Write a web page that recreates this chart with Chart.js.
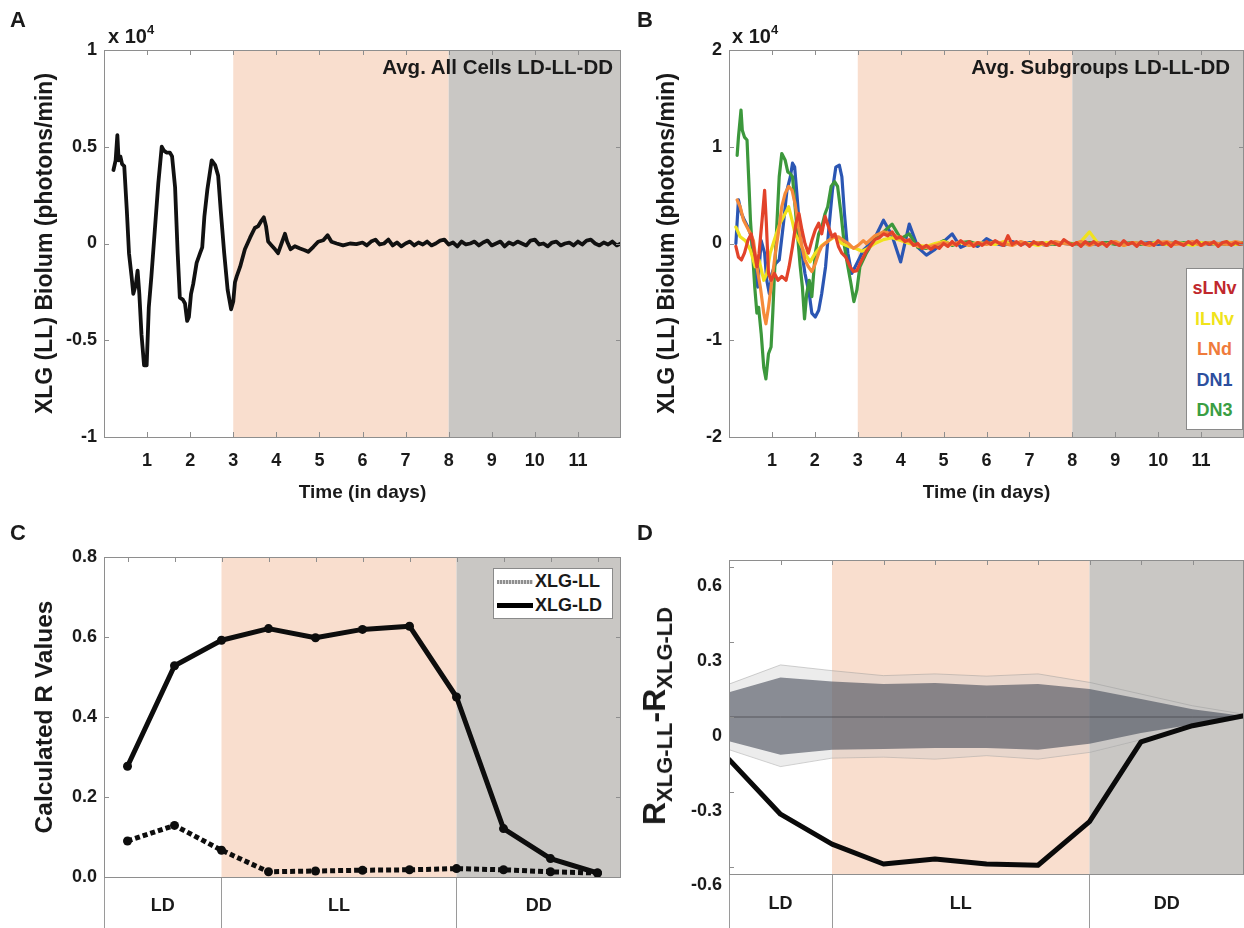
<!DOCTYPE html>
<html><head><meta charset="utf-8">
<script src="https://cdn.jsdelivr.net/npm/chart.js@4.4.1/dist/chart.umd.min.js"></script>
<style>
html,body{margin:0;padding:0;background:#fff;}
body{position:relative;width:1244px;height:928px;overflow:hidden;font-family:'Liberation Sans',Arial,Helvetica,sans-serif;font-weight:bold;color:#1a1a1a;}
canvas{position:absolute;}
.t{position:absolute;white-space:nowrap;line-height:1;}
.letter{font-size:22px;}
.mult{font-size:20px;}
.mult sup{font-size:13px;vertical-align:9px;}
.title{font-size:20.5px;}
.legB{position:absolute;left:1186px;top:268px;width:57px;height:162px;background:#fff;border:1px solid #8a8a8a;box-sizing:border-box;padding-top:4px;}
.legB div{height:30.6px;line-height:30.6px;text-align:center;font-size:18px;}
.legC{position:absolute;left:493px;top:568px;width:120px;height:51px;background:#fff;border:1px solid #8a8a8a;box-sizing:border-box;padding:1px 0 0 3px;}
.legC .row{display:flex;align-items:center;height:23.5px;font-size:18px;}
.legC .s1{width:36px;height:4px;background:repeating-linear-gradient(90deg,#8f8f8f 0 2px,#d8d8d8 2px 3px);margin-right:2px;}
.legC .s2{width:36px;height:5px;background:#000;margin-right:2px;}
#ytD{font-size:32px;transform:translate(-50%,-50%) rotate(-90deg);}
#ytD sub{font-size:22px;vertical-align:-7px;}
</style></head>
<body>
<canvas id="cA" width="640" height="510" style="left:0;top:0"></canvas>
<canvas id="cB" width="624" height="510" style="left:620px;top:0"></canvas>
<canvas id="cC" width="640" height="418" style="left:0;top:510px"></canvas>
<canvas id="cD" width="624" height="418" style="left:620px;top:510px"></canvas>

<div class="t letter" style="left:10px;top:9px">A</div>
<div class="t letter" style="left:637px;top:9px">B</div>
<div class="t letter" style="left:10px;top:522px">C</div>
<div class="t letter" style="left:637px;top:522px">D</div>
<div class="t mult" style="left:108px;top:23px">x 10<sup>4</sup></div>
<div class="t mult" style="left:732px;top:23px">x 10<sup>4</sup></div>
<div class="t title" style="right:631px;top:57px">Avg. All Cells LD-LL-DD</div>
<div class="t title" style="right:14px;top:57px">Avg. Subgroups LD-LL-DD</div>

<div class="legB">
  <div style="color:#c0282d">sLNv</div>
  <div style="color:#f0e31a">lLNv</div>
  <div style="color:#ef7b3c">LNd</div>
  <div style="color:#2d4f9e">DN1</div>
  <div style="color:#3a9e43">DN3</div>
</div>
<div class="legC">
  <div class="row"><div class="s1"></div>XLG-LL</div>
  <div class="row"><div class="s2"></div>XLG-LD</div>
</div>
<div class="t" id="ytD" style="left:657px;top:716px">R<sub>XLG-LL</sub>-R<sub>XLG-LD</sub></div>

<script>
// ---------------- DATA ----------------
// Panel A: average of all cells (x 10^4 photons/min) vs time (days)
const timeA = [0.22,0.27,0.31,0.34,0.38,0.42,0.47,0.53,0.58,0.64,0.68,0.74,0.78,0.82,0.87,0.93,0.99,1.04,1.10,1.18,
  1.26,1.34,1.39,1.45,1.53,1.58,1.65,1.71,1.76,1.83,1.88,1.93,1.97,2.02,2.07,2.15,2.23,2.28,2.33,2.40,
  2.50,2.58,2.65,2.71,2.79,2.87,2.95,3.00,3.04,3.08,3.16,3.27,3.39,3.50,3.58,3.66,3.71,3.76,3.81,3.89,
  3.97,4.04,4.12,4.20,4.25,4.33,4.43,4.55,4.66,4.74,4.86,4.97,5.09,5.19,5.28,5.40,5.55,5.71,5.86,
  6.0,6.1,6.2,6.3,6.4,6.5,6.6,6.7,6.8,6.9,
  7.0,7.1,7.2,7.3,7.4,7.5,7.6,7.7,7.8,7.9,
  8.0,8.1,8.2,8.3,8.4,8.5,8.6,8.7,8.8,8.9,
  9.0,9.1,9.2,9.3,9.4,9.5,9.6,9.7,9.8,9.9,
  10.0,10.1,10.2,10.3,10.4,10.5,10.6,10.7,10.8,10.9,
  11.0,11.1,11.2,11.3,11.4,11.5,11.6,11.7,11.8,11.9,12.0];
const allCells = [0.38,0.43,0.56,0.43,0.45,0.41,0.40,0.17,-0.05,-0.17,-0.26,-0.21,-0.14,-0.26,-0.47,-0.63,-0.63,-0.33,-0.17,0.07,
  0.31,0.50,0.48,0.47,0.47,0.45,0.29,-0.05,-0.28,-0.29,-0.31,-0.40,-0.38,-0.26,-0.21,-0.10,-0.05,-0.02,0.14,0.28,
  0.43,0.405,0.35,0.17,-0.05,-0.24,-0.34,-0.30,-0.20,-0.17,-0.12,-0.03,0.03,0.08,0.09,0.12,0.135,0.09,0.01,-0.01,
  -0.03,-0.05,0.0,0.05,0.01,-0.03,-0.014,-0.026,-0.035,-0.043,-0.017,0.009,0.017,0.043,0.009,0.0,-0.01,0.0,-0.003,
  0.005,-0.01,0.01,0.02,-0.005,0.0,0.02,-0.01,0.005,-0.015,
  0.0,0.01,-0.01,0.005,-0.005,0.01,-0.01,0.0,0.015,0.02,
  -0.005,0.005,-0.015,0.01,-0.005,0.0,0.01,-0.01,0.005,0.015,
  -0.01,0.0,0.01,-0.015,0.005,-0.005,0.01,0.0,-0.01,0.015,
  0.02,-0.005,0.0,-0.015,0.005,0.01,-0.01,0.0,0.005,-0.01,
  0.01,-0.005,0.015,0.02,0.0,-0.01,0.005,-0.005,0.01,-0.01,0.0];

// Panel B: subgroups. Early (LD) readings per series + tail readings on shared time grids
const tailFine = [3.2,3.3,3.4,3.5,3.6,3.7,3.8,3.9,
  4.0,4.1,4.2,4.3,4.4,4.5,4.6,4.7,4.8,4.9,
  5.0,5.1,5.2,5.3,5.4,5.5,5.6,5.7,5.8,5.9,
  6.0,6.1,6.2,6.3,6.4,6.5,6.6,6.7,6.8,6.9,
  7.0,7.1,7.2,7.3,7.4,7.5,7.6,7.7,7.8,7.9,
  8.0,8.1,8.2,8.3,8.4,8.5,8.6,8.7,8.8,8.9,
  9.0,9.1,9.2,9.3,9.4,9.5,9.6,9.7,9.8,9.9,
  10.0,10.1,10.2,10.3,10.4,10.5,10.6,10.7,10.8,10.9,
  11.0,11.1,11.2,11.3,11.4,11.5,11.6,11.7,11.8,11.9,12.0];
const tailCoarse = [3.2,3.4,3.6,3.8,4.0,4.2,4.4,4.6,4.8,5.0,5.2,5.4,5.6,5.8,6.0,6.2,6.4,6.6,6.8,7.0,7.2,7.4,7.6,
  7.8,8.0,8.2,8.4,8.6,8.8,9.0,9.2,9.4,9.6,9.8,10.0,10.2,10.4,10.6,10.8,11.0,11.2,11.4,11.6,11.8,12.0];

const sLNvTime = [0.16,0.22,0.29,0.36,0.44,0.52,0.57,0.65,0.70,0.77,0.83,0.87,0.92,0.98,1.06,1.14,1.23,1.33,1.40,1.48,
  1.56,1.63,1.70,1.77,1.85,1.93,2.01,2.09,2.16,2.24,2.32,2.40,2.47,2.55,2.63,2.72,2.82,2.90,2.98,3.05,3.13];
const sLNvEarly = [-0.03,-0.14,-0.17,-0.10,0.03,0.10,-0.03,-0.24,-0.10,0.24,0.55,0.21,-0.31,-0.38,-0.31,-0.38,-0.34,-0.38,-0.24,-0.03,
  0.21,0.31,0.14,0.0,-0.10,0.03,0.14,0.21,0.10,0.28,0.17,0.07,0.10,-0.03,-0.10,-0.14,-0.24,-0.29,-0.28,-0.21,-0.14];
const sLNvTail = [-0.08,-0.02,0.04,0.06,0.10,0.08,0.12,0.05,
  0.07,0.02,0.04,-0.02,0.0,-0.05,-0.02,-0.06,-0.03,-0.05,
  0.0,-0.03,0.02,-0.02,0.03,-0.01,0.02,-0.03,0.01,-0.02,
  0.02,-0.01,0.03,0.0,-0.02,0.08,-0.01,0.02,-0.02,0.01,
  -0.03,0.02,-0.01,0.01,-0.02,0.02,0.0,-0.02,0.04,0.01,
  -0.02,0.01,-0.03,0.02,-0.01,0.02,-0.02,0.01,-0.03,0.02,
  0.0,-0.02,0.03,-0.01,0.01,-0.03,0.02,-0.01,0.01,-0.02,
  0.03,-0.01,0.01,-0.03,0.02,0.0,-0.02,0.02,-0.01,0.03,
  -0.02,0.01,-0.01,0.02,-0.03,0.01,0.02,-0.02,0.01,-0.01,0.0];

const lLNvTime = [0.16,0.26,0.38,0.50,0.61,0.70,0.81,0.88,0.96,1.08,1.19,1.31,1.39,1.47,1.54,1.66,1.77,1.89,2.01,2.16,
  2.32,2.47,2.63,2.78,2.94,3.10];
const lLNvEarly = [0.17,0.07,0.03,-0.07,-0.24,-0.17,-0.38,-0.31,-0.10,0.07,0.21,0.31,0.38,0.24,0.10,0.0,-0.10,-0.19,-0.10,-0.02,
  0.03,0.07,0.0,-0.03,-0.05,-0.08];
const lLNvTail = [-0.06,0.0,0.04,0.06,0.03,0.0,-0.02,-0.03,0.0,0.02,-0.01,0.01,-0.02,0.01,0.0,-0.01,0.02,-0.01,0.01,0.0,
  -0.02,0.01,0.0,0.01,-0.01,0.02,0.12,0.0,-0.01,0.02,-0.02,0.01,0.0,-0.01,0.02,-0.01,0.01,0.0,-0.02,0.01,
  0.0,-0.01,0.02,-0.01,0.0];

const LNdTime = [0.19,0.26,0.34,0.42,0.50,0.57,0.65,0.73,0.81,0.86,0.92,1.00,1.08,1.16,1.23,1.31,1.39,1.47,1.54,1.62,
  1.70,1.77,1.85,1.93,2.01,2.09,2.16,2.24,2.32,2.43,2.55,2.67,2.78,2.90,3.01,3.13];
const LNdEarly = [0.45,0.38,0.24,0.17,0.10,0.03,-0.24,-0.45,-0.72,-0.83,-0.66,-0.38,-0.10,0.14,0.38,0.52,0.59,0.55,0.41,0.17,
  -0.03,-0.17,-0.24,-0.29,-0.21,-0.10,-0.03,0.0,0.03,0.07,0.07,0.03,0.0,-0.05,-0.02,0.03];
const LNdTail = [0.0,0.08,0.12,0.10,0.05,0.02,-0.03,-0.04,-0.02,0.01,-0.01,0.02,-0.02,0.01,-0.01,0.02,0.0,-0.02,0.02,-0.01,
  0.01,-0.02,0.02,0.0,-0.01,0.02,-0.02,0.01,-0.01,0.02,-0.02,0.01,0.0,-0.02,0.01,0.02,-0.01,0.0,0.02,-0.02,
  0.01,0.0,-0.01,0.02,0.0];

const DN1Time = [0.16,0.22,0.29,0.36,0.44,0.52,0.60,0.67,0.75,0.83,0.88,0.94,1.00,1.08,1.17,1.27,1.35,1.43,1.48,1.53,
  1.58,1.63,1.70,1.77,1.87,1.93,2.01,2.09,2.16,2.25,2.33,2.41,2.49,2.57,2.63,2.69,2.77,2.86,2.94,3.02,3.13];
const DN1Early = [0.0,0.45,0.31,0.24,0.17,0.07,-0.24,-0.45,0.03,-0.10,-0.38,-0.52,-0.31,-0.21,-0.17,0.21,0.55,0.69,0.83,0.79,
  0.52,0.24,-0.10,-0.31,-0.52,-0.72,-0.76,-0.69,-0.52,-0.24,0.17,0.55,0.79,0.81,0.69,0.31,-0.10,-0.31,-0.24,-0.17,-0.07];
const DN1Tail = [-0.04,0.06,0.24,0.08,-0.19,0.20,-0.04,-0.12,-0.06,0.02,0.10,-0.04,0.0,-0.03,0.05,0.0,-0.02,0.02,-0.01,0.01,
  0.0,-0.02,0.01,0.0,-0.01,0.01,0.0,-0.01,0.01,0.0,-0.01,0.01,0.0,0.01,-0.01,0.0,0.01,-0.01,0.0,0.01,
  -0.01,0.0,0.01,-0.01,0.0];

const DN3Time = [0.19,0.22,0.28,0.31,0.36,0.42,0.46,0.50,0.55,0.60,0.65,0.69,0.75,0.81,0.86,0.92,0.98,1.02,1.06,1.12,
  1.17,1.23,1.31,1.37,1.43,1.48,1.54,1.60,1.66,1.71,1.76,1.81,1.87,1.93,2.01,2.09,2.16,2.24,2.30,2.38,
  2.46,2.53,2.61,2.69,2.77,2.84,2.91,2.98,3.05];
const DN3Early = [0.91,1.10,1.38,1.17,1.10,1.07,0.66,0.24,-0.10,-0.45,-0.72,-0.66,-0.93,-1.28,-1.40,-1.14,-1.07,-0.72,-0.31,0.24,
  0.69,0.93,0.86,0.74,0.72,0.69,0.38,0.07,-0.24,-0.45,-0.78,-0.52,-0.38,-0.55,-0.10,0.10,0.17,0.31,0.38,0.59,
  0.64,0.59,0.31,-0.03,-0.24,-0.41,-0.60,-0.48,-0.24];
const DN3Tail = [-0.10,0.05,0.12,0.20,0.05,0.10,-0.04,-0.05,-0.02,0.03,-0.02,0.01,0.02,-0.01,0.0,0.02,-0.01,0.0,0.01,-0.01,
  0.01,0.0,-0.01,0.01,0.0,-0.01,0.01,0.0,0.01,-0.01,0.0,0.01,-0.01,0.0,0.01,-0.01,0.0,0.01,0.0,-0.01,
  0.01,0.0,-0.01,0.0,0.01];

// Panel C: calculated R values per time window
const windowsC = [1,2,3,4,5,6,7,8,9,10,11];
const rXLG_LD = [0.277,0.528,0.592,0.621,0.598,0.619,0.627,0.450,0.121,0.046,0.010];
const rXLG_LL = [0.090,0.129,0.067,0.013,0.015,0.017,0.018,0.021,0.018,0.013,0.010];

// Panel D: R(XLG-LL) - R(XLG-LD) with null distribution bands
const windowsD = [1,2,3,4,5,6,7,8,9,10,11];
const rDiff = [-0.17,-0.39,-0.51,-0.59,-0.57,-0.59,-0.595,-0.42,-0.10,-0.035,0.005];
const nullMean = [0,0,0,0,0,0,0,0,0,0,0];
const innerUpper = [0.099,0.159,0.142,0.132,0.136,0.126,0.132,0.112,0.072,0.031,0.004];
const innerLower = [-0.097,-0.151,-0.131,-0.128,-0.124,-0.124,-0.131,-0.107,-0.064,-0.030,-0.004];
const outerUpper = [0.132,0.209,0.186,0.166,0.173,0.164,0.173,0.139,0.092,0.045,0.011];
const outerLower = [-0.131,-0.199,-0.165,-0.161,-0.169,-0.155,-0.169,-0.142,-0.091,-0.043,-0.004];

// Axis ticks / labels
const dayTicks = [1,2,3,4,5,6,7,8,9,10,11];
const yTicksA = [-1,-0.5,0,0.5,1];
const yLabelsA = ['-1','-0.5','0','0.5','1'];
const yTicksB = [-2,-1,0,1,2];
const yLabelsB = ['-2','-1','0','1','2'];
const yTicksC = [0,0.2,0.4,0.6,0.8];
const yLabelsC = ['0.0','0.2','0.4','0.6','0.8'];
const yTicksD = [-0.6,-0.3,0,0.3,0.6];
const yLabelsD = ['-0.6','-0.3','0','0.3','0.6'];
const phaseNames = ['LD','LL','DD'];
const phaseCentersC = [1.75,5.5,9.75];
const phaseEdgesC = [0.5,3,8];
const phaseCentersD = [2,5.5,9.5];
const phaseEdgesD = [1,3,8];
const topTicksC = [1,2,3,4,5,6,7,8,9,10,11];
const topTicksD = [2,3,4,5,6,7,8,9,10];

// ---------------- STYLE ----------------
const LL_COLOR = 'rgb(249,222,206)';
const DD_COLOR = 'rgb(201,199,196)';
const FRAME = '#8e8e8e';
const TXT = '#1a1a1a';
Chart.defaults.font.family = "'Liberation Sans', Arial, Helvetica, sans-serif";
Chart.defaults.font.weight = 'bold';
Chart.defaults.color = TXT;

const shadePlugin = {
  id: 'shade',
  beforeDatasetsDraw(chart, args, opts) {
    const {ctx, chartArea: a, scales: {x}} = chart;
    ctx.save();
    (opts.regions || []).forEach(r => {
      const x0 = Math.max(a.left, x.getPixelForValue(r.from));
      const x1 = Math.min(a.right, x.getPixelForValue(r.to));
      ctx.fillStyle = r.color;
      ctx.fillRect(x0, a.top, x1 - x0, a.bottom - a.top);
    });
    ctx.restore();
  }
};
const framePlugin = {
  id: 'frame',
  afterDatasetsDraw(chart, args, opts) {
    const {ctx, chartArea: a, scales: {x, y}} = chart;
    const L = opts.len || 5;
    ctx.save();
    ctx.strokeStyle = FRAME; ctx.lineWidth = 1;
    ctx.beginPath();
    (opts.xTicks || []).forEach(v => {
      const px = Math.round(x.getPixelForValue(v)) + 0.5;
      if (opts.top) { ctx.moveTo(px, a.top); ctx.lineTo(px, a.top + L); }
      if (opts.bottom) { ctx.moveTo(px, a.bottom); ctx.lineTo(px, a.bottom - L); }
    });
    (opts.yTicks || []).forEach(v => {
      const py = Math.round(y.getPixelForValue(v)) + 0.5;
      ctx.moveTo(a.left, py); ctx.lineTo(a.left + L, py);
      if (opts.right) { ctx.moveTo(a.right, py); ctx.lineTo(a.right - L, py); }
    });
    ctx.stroke();
    ctx.strokeRect(Math.round(a.left) + 0.5, Math.round(a.top) + 0.5,
      Math.round(a.right - a.left) - 1, Math.round(a.bottom - a.top));
    ctx.restore();
  }
};

function pts(xs, ys) { return xs.map((x, i) => ({x, y: ys[i]})); }

function yAxis(o) {
  return {
    type: 'linear', min: o.min, max: o.max,
    afterBuildTicks: s => { s.ticks = o.ticks.map(v => ({value: v})); },
    afterFit: s => { s.width = o.width; },
    grid: {display: false, drawTicks: false}, border: {display: false},
    ticks: {padding: o.pad, labelOffset: o.labelOffset || 0, autoSkip: false, color: TXT,
      font: {size: 18, weight: 'bold'}, callback: (v, i) => o.labels[i]},
    title: o.title ? {display: true, text: o.title, color: TXT, font: {size: o.titleSize || 23, weight: 'bold'},
      padding: {top: o.titlePad, bottom: 0}} : {display: false}
  };
}
function timeAxis() {
  return {
    type: 'linear', min: 0, max: 12,
    afterBuildTicks: s => { s.ticks = dayTicks.map(v => ({value: v})); },
    afterFit: s => { s.height = 73; },
    grid: {display: false, drawTicks: false}, border: {display: false},
    ticks: {padding: 13, autoSkip: false, maxRotation: 0, color: TXT, font: {size: 18, weight: 'bold'},
      callback: (v, i) => String(dayTicks[i])},
    title: {display: true, text: 'Time (in days)', color: TXT, font: {size: 19, weight: 'bold'},
      padding: {top: 0, bottom: 6}}
  };
}
function phaseAxis(min, max, centers, edges, h, pad) {
  return {
    type: 'linear', min, max,
    afterBuildTicks: s => { s.ticks = edges.concat(centers).sort((a, b) => a - b).map(v => ({value: v})); },
    afterFit: s => { s.height = h; },
    grid: {display: true, drawOnChartArea: false, drawTicks: true, tickLength: h, tickWidth: 1,
      tickColor: c => (c.tick && edges.includes(c.tick.value)) ? '#9a9a9a' : 'rgba(0,0,0,0)'},
    border: {display: false},
    ticks: {padding: pad, autoSkip: false, maxRotation: 0, color: TXT, font: {size: 18, weight: 'bold'},
      callback: v => { const k = centers.indexOf(v); return k >= 0 ? phaseNames[k] : ''; }}
  };
}
function common(padTop, padRight) {
  return {
    responsive: false, maintainAspectRatio: false, animation: false, devicePixelRatio: 1,
    layout: {padding: {left: 0, right: padRight, top: padTop, bottom: 0}},
    elements: {point: {radius: 0}, line: {tension: 0, borderJoinStyle: 'round', borderCapStyle: 'round'}},
    events: []
  };
}

// ---------- Panel A ----------
new Chart(document.getElementById('cA'), {
  type: 'line',
  data: {datasets: [{label: 'All cells', data: pts(timeA, allCells), borderColor: '#111', borderWidth: 3.8, fill: false}]},
  options: Object.assign(common(50, 19), {
    scales: {x: timeAxis(), y: yAxis({min: -1, max: 1, ticks: yTicksA, labels: yLabelsA, width: 104, pad: 7,
      title: 'XLG (LL) Biolum (photons/min)', titlePad: 32})},
    plugins: {legend: {display: false}, tooltip: {enabled: false},
      shade: {regions: [{from: 3, to: 8, color: LL_COLOR}, {from: 8, to: 12, color: DD_COLOR}]},
      frame: {xTicks: dayTicks, yTicks: [-0.5, 0, 0.5], top: true, bottom: true, right: true}}
  }),
  plugins: [shadePlugin, framePlugin]
});

// ---------- Panel B ----------
const subgroups = [
  {label: 'sLNv', t: sLNvTime.concat(tailFine), v: sLNvEarly.concat(sLNvTail), color: '#e2432a', order: 0},
  {label: 'lLNv', t: lLNvTime.concat(tailCoarse), v: lLNvEarly.concat(lLNvTail), color: '#f0e21e', order: 2},
  {label: 'LNd', t: LNdTime.concat(tailCoarse), v: LNdEarly.concat(LNdTail), color: '#f58a3a', order: 1},
  {label: 'DN1', t: DN1Time.concat(tailCoarse), v: DN1Early.concat(DN1Tail), color: '#2b56b3', order: 4},
  {label: 'DN3', t: DN3Time.concat(tailCoarse), v: DN3Early.concat(DN3Tail), color: '#3c983c', order: 3}
];
new Chart(document.getElementById('cB'), {
  type: 'line',
  data: {datasets: subgroups.map(g => ({label: g.label, data: pts(g.t, g.v), borderColor: g.color,
    borderWidth: 3.2, fill: false, order: g.order}))},
  options: Object.assign(common(50, 0), {
    scales: {x: timeAxis(), y: yAxis({min: -2, max: 2, ticks: yTicksB, labels: yLabelsB, width: 109, pad: 7,
      title: 'XLG (LL) Biolum (photons/min)', titlePad: 34})},
    plugins: {legend: {display: false}, tooltip: {enabled: false},
      shade: {regions: [{from: 3, to: 8, color: LL_COLOR}, {from: 8, to: 12, color: DD_COLOR}]},
      frame: {xTicks: dayTicks, yTicks: [-1, 0, 1], top: true, bottom: true, right: true}}
  }),
  plugins: [shadePlugin, framePlugin]
});

// ---------- Panel C ----------
new Chart(document.getElementById('cC'), {
  type: 'line',
  data: {datasets: [
    {label: 'XLG-LD', data: pts(windowsC, rXLG_LD), borderColor: '#0d0d0d', backgroundColor: '#0d0d0d',
      borderWidth: 5, pointRadius: 4.5, pointBorderWidth: 0, fill: false},
    {label: 'XLG-LL', data: pts(windowsC, rXLG_LL), borderColor: '#0d0d0d', backgroundColor: '#0d0d0d',
      borderWidth: 5, borderDash: [5, 3], borderCapStyle: 'butt', pointRadius: 4.5, pointBorderWidth: 0, fill: false}
  ]},
  options: Object.assign(common(47, 19), {
    scales: {x: phaseAxis(0.5, 11.5, phaseCentersC, phaseEdgesC, 51, -33),
      y: yAxis({min: 0, max: 0.8, ticks: yTicksC, labels: yLabelsC, width: 104, pad: 7,
        title: 'Calculated R Values', titlePad: 31, titleSize: 24.5})},
    plugins: {legend: {display: false}, tooltip: {enabled: false},
      shade: {regions: [{from: 3, to: 8, color: LL_COLOR}, {from: 8, to: 11.5, color: DD_COLOR}]},
      frame: {xTicks: topTicksC, yTicks: [0.2, 0.4, 0.6], top: true, bottom: false, right: true}}
  }),
  plugins: [shadePlugin, framePlugin]
});

// ---------- Panel D ----------
new Chart(document.getElementById('cD'), {
  type: 'line',
  data: {datasets: [
    {label: 'R diff', data: pts(windowsD, rDiff), borderColor: '#0a0a0a', borderWidth: 5, fill: false},
    {label: 'null mean', data: pts(windowsD, nullMean), borderColor: 'rgba(70,70,75,0.75)', borderWidth: 1, fill: false},
    {label: 'inner upper', data: pts(windowsD, innerUpper), borderWidth: 0, borderColor: 'rgba(0,0,0,0)',
      backgroundColor: 'rgba(70,75,88,0.6)', fill: '+1'},
    {label: 'inner lower', data: pts(windowsD, innerLower), borderWidth: 0, borderColor: 'rgba(0,0,0,0)', fill: false},
    {label: 'outer upper', data: pts(windowsD, outerUpper), borderWidth: 1, borderColor: 'rgba(150,150,150,0.45)',
      backgroundColor: 'rgba(200,200,200,0.35)', fill: '+1'},
    {label: 'outer lower', data: pts(windowsD, outerLower), borderWidth: 1, borderColor: 'rgba(150,150,150,0.45)', fill: false}
  ]},
  options: Object.assign(common(50, 0), {
    scales: {x: phaseAxis(1, 11, phaseCentersD, phaseEdgesD, 54, -35),
      y: yAxis({min: -0.63, max: 0.63, ticks: yTicksD, labels: yLabelsD, width: 109, pad: 7, labelOffset: 19})},
    plugins: {legend: {display: false}, tooltip: {enabled: false},
      shade: {regions: [{from: 3, to: 8, color: LL_COLOR}, {from: 8, to: 11, color: DD_COLOR}]},
      frame: {xTicks: topTicksD, yTicks: yTicksD, top: true, bottom: false, right: false}}
  }),
  plugins: [shadePlugin, framePlugin]
});
</script>
</body></html>
